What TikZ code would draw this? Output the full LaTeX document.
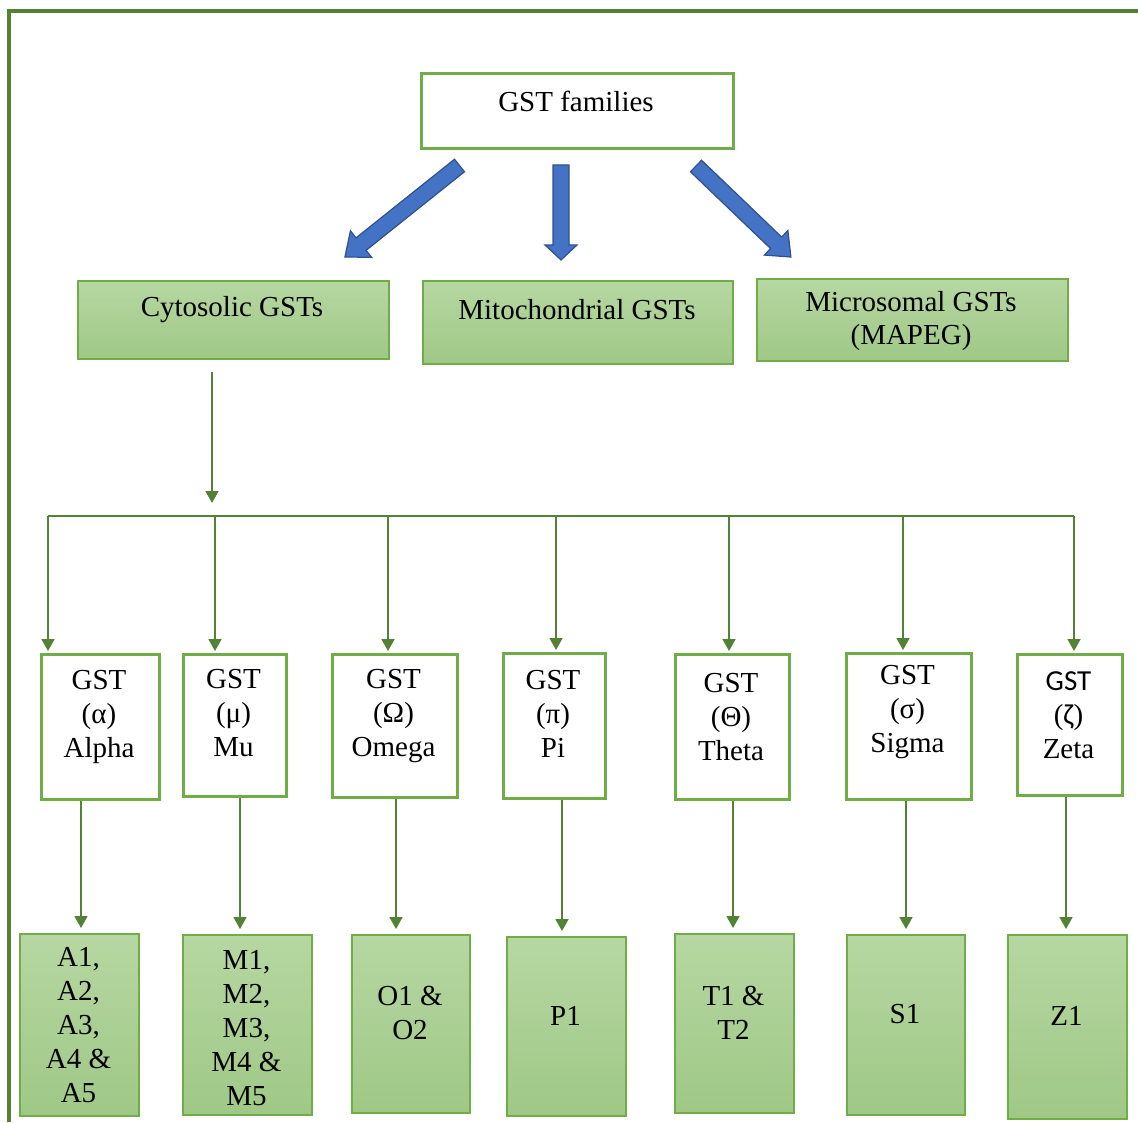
\documentclass[tikz,border=0pt]{standalone}
\usepackage{fontspec}
\setmainfont{Liberation Serif}
\newfontfamily\carlito{Carlito}
\usetikzlibrary{arrows.meta,calc}
\definecolor{frameG}{HTML}{548235}
\definecolor{boxG}{HTML}{70AD47}
\definecolor{topG}{HTML}{B6D7A2}
\definecolor{botG}{HTML}{9FC886}
\definecolor{blueF}{HTML}{4472C4}
\definecolor{blueD}{HTML}{2F528F}
\newcommand{\fsz}{\fontsize{14.5pt}{16.9pt}\selectfont}
\begin{document}
\begin{tikzpicture}[x=0.5pt,y=-0.5pt,
  whitebox/.style={draw=boxG, line width=1.5pt, fill=white, inner sep=0pt, anchor=north west},
  greenbox/.style={draw=boxG, line width=0.8pt, top color=topG, bottom color=botG, inner sep=0pt, anchor=north west},
  lbl/.style={align=center, font=\fsz, inner sep=0pt, text=black},
  conn/.style={draw=frameG, line width=0.9pt, -{Triangle[width=6.5pt,length=6pt]}},
  bus/.style={draw=frameG, line width=1.4pt},
  frameline/.style={draw=frameG, line width=1.75pt},
  blockarrow/.style={fill=blueF, draw=blueD, line width=0.6pt, line join=miter}]
\useasboundingbox (0,0) rectangle (1138,1122);

% frame
\draw[frameline] (9,1122) -- (9,11) -- (1138,11);

% top box
\node[whitebox, minimum width=156pt, minimum height=37.5pt] (fam) at (420,72) {};
\node[lbl] (famT) at (576,101) {GST families};

% block arrows
\coordinate (blA) at (459.5,165.5);
\coordinate (blB) at (561,165);
\coordinate (blC) at (696,166);
\begin{scope}[shift={(blA)}, rotate=218.6]
  \path[blockarrow] (0,-8) -- (126,-8) -- (126,-17) -- (146.6,0) -- (126,17) -- (126,8) -- (0,8) -- cycle;
\end{scope}
\begin{scope}[shift={(blB)}, rotate=-90]
  \path[blockarrow] (0,-8) -- (80,-8) -- (80,-16) -- (95,0) -- (80,16) -- (80,8) -- (0,8) -- cycle;
\end{scope}
\begin{scope}[shift={(blC)}, rotate=-43.8]
  \path[blockarrow] (0,-8) -- (111,-8) -- (111,-17) -- (131.5,0) -- (111,17) -- (111,8) -- (0,8) -- cycle;
\end{scope}

% second row
\node[greenbox, minimum width=155.5pt, minimum height=39pt] (cyto) at (77,280) {};
\node[greenbox, minimum width=155pt, minimum height=41.5pt] (mito) at (422,280) {};
\node[greenbox, minimum width=155.5pt, minimum height=41pt] (micro) at (756,278) {};
\node[lbl] (cytoT) at (232,310) {Cytosolic GSTs};
\node[lbl] (mitoT) at (577,310) {Mitochondrial GSTs};
\node[lbl] (microT) at (911,321) {Microsomal GSTs\\(MAPEG)};

% third row
\node[whitebox, minimum width=59pt, minimum height=72.5pt] (alpha) at (40,653) {};
\node[whitebox, minimum width=51.5pt, minimum height=71pt] (mu) at (182,653) {};
\node[whitebox, minimum width=62.5pt, minimum height=71.5pt] (omega) at (331,653) {};
\node[whitebox, minimum width=51pt, minimum height=72.5pt] (pi) at (502,652) {};
\node[whitebox, minimum width=57pt, minimum height=72.5pt] (theta) at (674,653) {};
\node[whitebox, minimum width=62.5pt, minimum height=73pt] (sigma) at (845,652) {};
\node[whitebox, minimum width=52.5pt, minimum height=70.5pt] (zeta) at (1016,653) {};
\node[lbl] (alphaT) at (99,717) {GST\\(α)\\Alpha};
\node[lbl] (muT) at (233.5,713) {GST\\(μ)\\Mu};
\node[lbl] (omegaT) at (393.5,716) {GST\\(Ω)\\Omega};
\node[lbl] (piT) at (553,714) {GST\\(π)\\Pi};
\node[lbl] (thetaT) at (731,717) {GST\\(Θ)\\Theta};
\node[lbl] (sigmaT) at (907.5,712) {GST\\(σ)\\Sigma};
\node[lbl] (zetaT) at (1068.5,715) {{\carlito GST}\\({\carlito ζ})\\Zeta};

% fourth row
\node[greenbox, minimum width=59.5pt, minimum height=91pt] (a) at (19,933) {};
\node[greenbox, minimum width=64.5pt, minimum height=90pt] (m) at (182,934) {};
\node[greenbox, minimum width=59pt, minimum height=89pt] (o) at (351,934) {};
\node[greenbox, minimum width=59.5pt, minimum height=89.5pt] (p) at (506,936) {};
\node[greenbox, minimum width=59.5pt, minimum height=89.5pt] (t) at (674,933) {};
\node[greenbox, minimum width=59pt, minimum height=90pt] (s) at (846,934) {};
\node[greenbox, minimum width=59.5pt, minimum height=92pt] (z) at (1007,934) {};
\node[lbl] (aT) at (78.5,1025) {A1,\\A2,\\A3,\\A4 \&\\A5};
\node[lbl] (mT) at (246.5,1028) {M1,\\M2,\\M3,\\M4 \&\\M5};
\node[lbl] (oT) at (410,1013) {O1 \&\\O2};
\node[lbl] (pT) at (565.5,1016) {P1};
\node[lbl] (tT) at (733.5,1013) {T1 \&\\T2};
\node[lbl] (sT) at (905,1014) {S1};
\node[lbl] (zT) at (1066.5,1016) {Z1};

% cytosolic connector and bus
\coordinate (cs) at (212,372);
\coordinate (ce) at (212,503);
\draw[conn] (cs) -- (ce);
\coordinate (busL) at (48,516);
\coordinate (busR) at (1074,516);
\draw[bus] (busL) -- (busR);

\foreach \u/\dx/\ax in {alpha/48/81, mu/215/240, omega/388/396, pi/556/562, theta/729/733, sigma/903/906, zeta/1074/1066}{
  \coordinate (dx\u) at (\dx,516);
  \coordinate (ax\u) at (\ax,0);
}
\foreach \u/\l in {alpha/a, mu/m, omega/o, pi/p, theta/t, sigma/s, zeta/z}{
  \draw[conn] (dx\u) -- ($(\u.north -| dx\u)+(0,-2)$);
  \draw[conn] (\u.south -| ax\u) -- ($(\l.north -| ax\u)+(0,-5)$);
}
\end{tikzpicture}
\end{document}
